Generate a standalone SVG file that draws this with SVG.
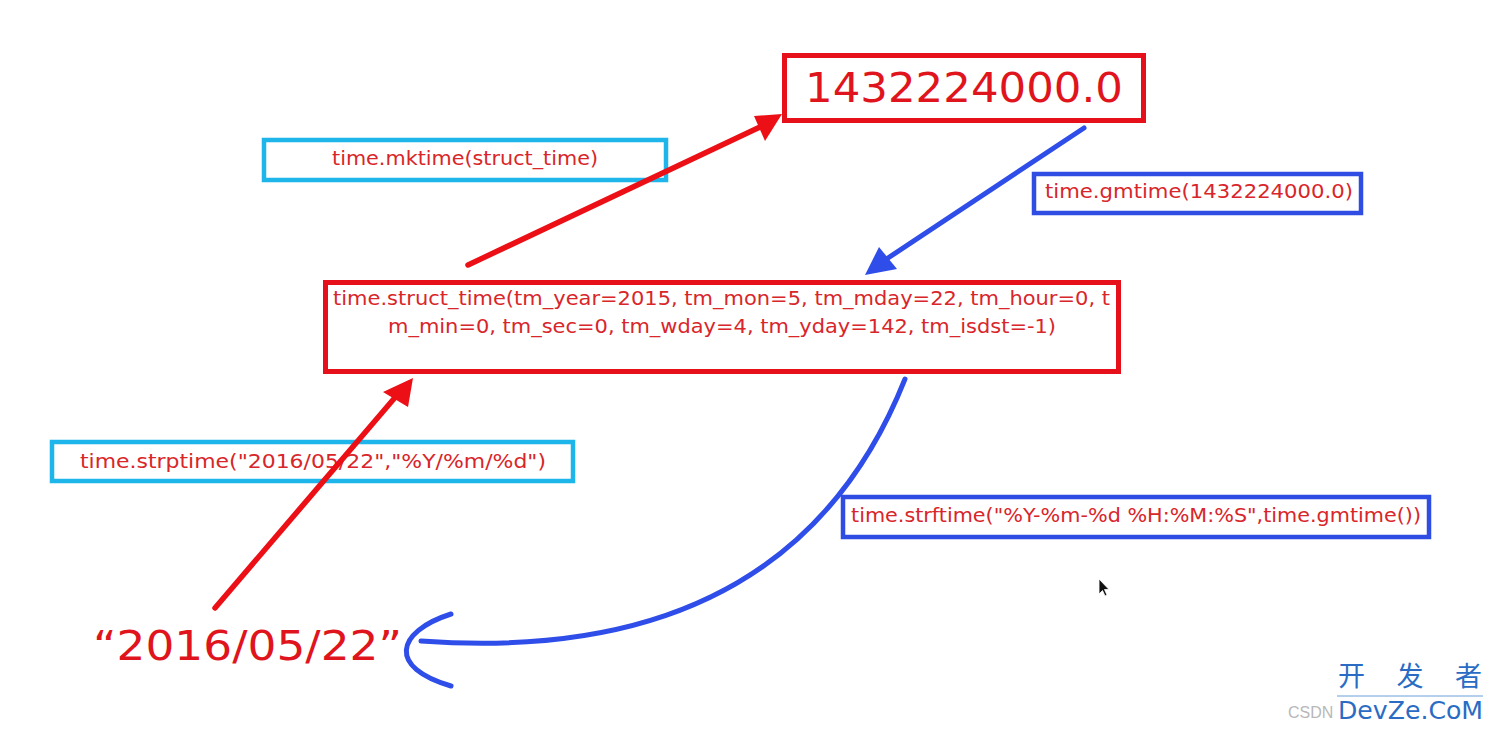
<svg xmlns="http://www.w3.org/2000/svg" width="1493" height="730" viewBox="0 0 1493 730">
<style>
.lbl{font-family:"DejaVu Sans","Liberation Sans",sans-serif;fill:#d8262a;font-size:20px}
.big{font-family:"DejaVu Sans","Liberation Sans",sans-serif;fill:#e0141c;font-size:41px}
.redbox{fill:none;stroke:#e5101a;stroke-width:5}
.cyanbox{fill:none;stroke:#1db5ea;stroke-width:4.5}
.bluebox{fill:none;stroke:#2f4de2;stroke-width:4.5}
.red{stroke:#ec1016;stroke-width:5.5;fill:none;stroke-linecap:round}
.blue{stroke:#2f4de8;stroke-width:5;fill:none;stroke-linecap:round}
</style>
<rect width="1493" height="730" fill="#fff"/>
<g id="node-timestamp">
  <rect class="redbox" x="784.5" y="55.5" width="359" height="65"/>
  <text class="big" x="805" y="102" textLength="318" lengthAdjust="spacingAndGlyphs">1432224000.0</text>
</g>
<g id="node-mktime">
  <rect class="cyanbox" x="264" y="140" width="402" height="40"/>
  <text class="lbl" x="332" y="165" textLength="266" lengthAdjust="spacingAndGlyphs">time.mktime(struct_time)</text>
</g>
<g id="node-gmtime">
  <rect class="bluebox" x="1034" y="174" width="327" height="39"/>
  <text class="lbl" x="1045" y="198" textLength="308" lengthAdjust="spacingAndGlyphs">time.gmtime(1432224000.0)</text>
</g>
<g id="node-struct">
  <rect class="redbox" x="325.5" y="282.5" width="793" height="89"/>
  <text class="lbl" x="333" y="305" textLength="777" lengthAdjust="spacingAndGlyphs">time.struct_time(tm_year=2015, tm_mon=5, tm_mday=22, tm_hour=0, t</text>
  <text class="lbl" x="388" y="333" textLength="668" lengthAdjust="spacingAndGlyphs">m_min=0, tm_sec=0, tm_wday=4, tm_yday=142, tm_isdst=-1)</text>
</g>
<g id="node-strptime">
  <rect class="cyanbox" x="52" y="442" width="521" height="39"/>
  <text class="lbl" x="80" y="468" textLength="466" lengthAdjust="spacingAndGlyphs">time.strptime("2016/05/22","%Y/%m/%d")</text>
</g>
<g id="node-strftime">
  <rect class="bluebox" x="843" y="497" width="586" height="40"/>
  <text class="lbl" x="851" y="522" textLength="570" lengthAdjust="spacingAndGlyphs">time.strftime("%Y-%m-%d %H:%M:%S",time.gmtime())</text>
</g>
<g id="node-string">
  <text class="big" x="93" y="660" font-size="40" textLength="309" lengthAdjust="spacingAndGlyphs">“2016/05/22”</text>
</g>
<g id="connectors">
  <line class="red" x1="468" y1="265" x2="760" y2="127"/>
  <polygon points="782,114 754,116 765,141" fill="#ec1016"/>
  <line class="blue" x1="1084" y1="128" x2="885" y2="260"/>
  <polygon points="865,275 879,247 897,269" fill="#2f4de8"/>
  <line class="red" x1="215" y1="608" x2="398" y2="394"/>
  <polygon points="413,378 383,392 408,407" fill="#ec1016"/>
  <path class="blue" d="M905,379 Q790,668 421,641"/>
  <path class="blue" d="M451,614 C395,632 388,668 451,686"/>
</g>
<g id="cursor">
  <path d="M1099,579 L1099,594 L1102.5,590.5 L1105,596 L1107,595 L1104.5,589.5 L1109,589.5 Z" fill="#111" stroke="#fff" stroke-width="0.8"/>
</g>
<g id="watermark">
  <text x="1338" y="686" font-family="'Noto Sans CJK SC',sans-serif" font-size="27" fill="#2a6cc4" textLength="144" lengthAdjust="spacing">开发者</text>
  <line x1="1337" y1="696" x2="1483" y2="696" stroke="#6aa0d8" stroke-width="1"/>
  <text x="1288" y="718" font-family="'Liberation Sans',sans-serif" font-size="16" fill="#b8b8b8">CSDN</text>
  <text x="1338" y="719" font-family="'DejaVu Sans',sans-serif" font-size="24" fill="#2a6cc4" textLength="145" lengthAdjust="spacingAndGlyphs">DevZe.CoM</text>
</g>
</svg>
